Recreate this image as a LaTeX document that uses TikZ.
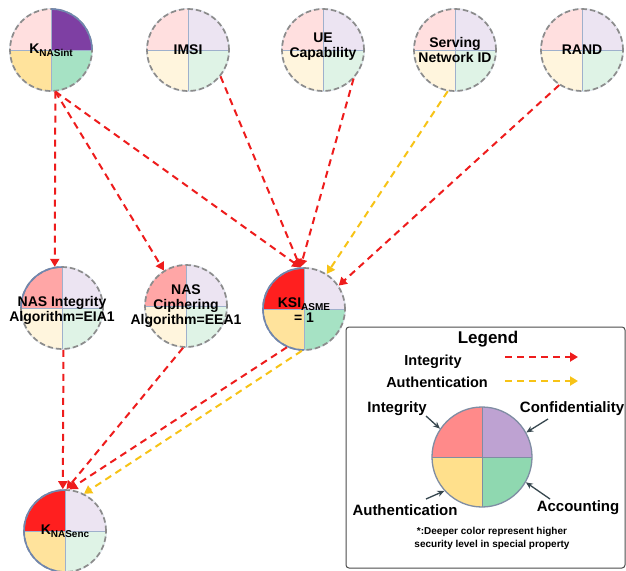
\documentclass[tikz,border=0pt]{standalone}
\usepackage{fontspec}
\setmainfont{Liberation Sans}
\usetikzlibrary{arrows.meta}
\definecolor{ppink}{HTML}{FFDFDF}
\definecolor{plav}{HTML}{ECE4F2}
\definecolor{pyel}{HTML}{FFF5DD}
\definecolor{pgrn}{HTML}{DFF3E6}
\definecolor{mpink}{HTML}{FFA6A6}
\definecolor{myel}{HTML}{FFE39C}
\definecolor{mgrn}{HTML}{A6E2C4}
\definecolor{dred}{HTML}{FF1F1F}
\definecolor{dpur}{HTML}{7E3FA3}
\definecolor{lgpink}{HTML}{FF8A8A}
\definecolor{lgpur}{HTML}{BEA2D2}
\definecolor{lgyel}{HTML}{FFE08C}
\definecolor{lggrn}{HTML}{8FD8B0}
\definecolor{bordergray}{HTML}{8C8C8C}
\definecolor{borderlight}{HTML}{DDE3EC}
\definecolor{crossblue}{HTML}{9FB0CC}
\definecolor{arcblue}{HTML}{6F86B0}
\definecolor{arrred}{HTML}{EE1C1C}
\definecolor{arryel}{HTML}{F7C316}
\definecolor{slate}{HTML}{37474F}
\tikzset{
  qnode/.style n args={4}{circle, minimum size=82pt, inner sep=0pt,
    draw=bordergray, line width=1.7pt, dash pattern=on 5.5pt off 3pt,
    preaction={draw=borderlight, solid, line width=1.7pt},
    path picture={
      \fill[#1] (path picture bounding box.center) rectangle (path picture bounding box.north west);
      \fill[#2] (path picture bounding box.center) rectangle (path picture bounding box.north east);
      \fill[#3] (path picture bounding box.center) rectangle (path picture bounding box.south west);
      \fill[#4] (path picture bounding box.center) rectangle (path picture bounding box.south east);
      \draw[crossblue, line width=0.8pt, solid] (path picture bounding box.north) -- (path picture bounding box.south);
      \draw[crossblue, line width=0.8pt, solid] (path picture bounding box.west) -- (path picture bounding box.east);
    }},
  ntext/.style={font=\bfseries\fontsize{14}{16}\selectfont, align=center, text=black, inner sep=0pt},
  deeparc/.style={draw=arcblue, line width=1.5pt, solid},
  redarr/.style={draw=arrred, line width=2pt, dash pattern=on 7pt off 5pt, -{Triangle[length=8pt,width=9pt]}, arrred},
  yelarr/.style={draw=arryel, line width=2pt, dash pattern=on 7pt off 5pt, -{Triangle[length=8pt,width=9pt]}, arryel},
  lblarr/.style={draw=slate, line width=1.3pt, -{Stealth[length=7pt,width=6pt]}},
  lgtext/.style={font=\bfseries\fontsize{15}{18}\selectfont, text=black},
}
\begin{document}
\begin{tikzpicture}[x=1pt, y=1pt]
\useasboundingbox (0,0) rectangle (626,-570);
\fill[white] (0,0) rectangle (626,-570);

% top row
\node[qnode={ppink}{dpur}{myel}{mgrn}] (kint) at (51,-50) {};
\node[qnode={ppink}{plav}{pyel}{pgrn}] (imsi) at (188,-50) {};
\node[qnode={ppink}{plav}{pyel}{pgrn}] (ue) at (323,-50) {};
\node[qnode={ppink}{plav}{pyel}{pgrn}] (snid) at (455,-50) {};
\node[qnode={ppink}{plav}{pyel}{pgrn}] (rand) at (582,-50) {};

% middle row
\node[qnode={mpink}{plav}{pyel}{pgrn}] (nasint) at (62,-308) {};
\node[qnode={mpink}{plav}{pyel}{pgrn}] (nascip) at (186,-306) {};
\node[qnode={dred}{plav}{myel}{mgrn}] (ksi) at (304,-309) {};

% bottom
\node[qnode={dred}{plav}{myel}{pgrn}] (kenc) at (65,-531) {};

% solid arcs on deep quadrants
\draw[deeparc] (kint.center) ++(0:41) arc[start angle=0, end angle=90, radius=41];
\draw[deeparc] (ksi.center) ++(90:41) arc[start angle=90, end angle=270, radius=41];
\draw[deeparc] (kenc.center) ++(90:41) arc[start angle=90, end angle=270, radius=41];
\draw[deeparc] (nasint.center) ++(90:41) arc[start angle=90, end angle=180, radius=41];

% texts
\node[ntext] (kint-t) at (kint.center) {K\raisebox{-3pt}{\fontsize{10}{12}\selectfont NASint}};
\node[ntext] (imsi-t) at (imsi.center) {IMSI};
\node[ntext] (ue-t) at ([yshift=3pt]ue.center) {UE\\[-1pt]Capability};
\node[ntext] (snid-t) at (snid.center) {Serving\\[-1pt]Network ID};
\node[ntext] (rand-t) at (rand.center) {RAND};
\node[ntext] (nasint-t) at ([yshift=-2pt]nasint.center) {NAS Integrity\\[-1pt]Algorithm=EIA1};
\node[ntext] (nascip-t) at (nascip.center) {NAS\\[-1pt]Ciphering\\[-1pt]Algorithm=EEA1};
\node[ntext] (ksi-t) at ([yshift=-1pt]ksi.center) {KSI\raisebox{-3pt}{\fontsize{10}{12}\selectfont ASME}\\[-1pt]= 1};
\node[ntext] (kenc-t) at (kenc.center) {K\raisebox{-3pt}{\fontsize{10}{12}\selectfont NASenc}};

% connectors
\draw[redarr] (kint.-84) -- (nasint.100);
\draw[redarr] (kint.-84) -- (nascip.122);
\draw[redarr] (kint.-84) -- (ksi.95);
\draw[redarr] (imsi.-39) -- (ksi.95);
\draw[redarr] (ue.-43) -- (ksi.95);
\draw[yelarr] (snid.-100) -- (ksi.57);
\draw[redarr] (rand.-123) -- (ksi.34);
\draw[redarr] (nasint.-88) -- (kenc.93);
\draw[redarr] (nascip.-94) -- (kenc.88);
\draw[redarr] (ksi.-114) -- (kenc.84);
\draw[yelarr] (ksi.-93) -- (kenc.63);

% legend
\draw[draw=black!70, line width=1pt, rounded corners=3pt] (346,-327) rectangle (625,-568);
\node[font=\bfseries\fontsize{17}{20}\selectfont] (legt) at (488,-339) {Legend};
\node[font=\bfseries\fontsize{14.5}{17}\selectfont] (li) at (433,-362) {Integrity};
\node[font=\bfseries\fontsize{14.5}{17}\selectfont] (la) at (437,-382) {Authentication};
\coordinate (lr1) at (505,-357);
\coordinate (lr2) at (578,-357);
\coordinate (ly1) at (505,-381);
\coordinate (ly2) at (578,-381);
\draw[redarr] (lr1) -- (lr2);
\draw[yelarr] (ly1) -- (ly2);

\node[circle, minimum size=100pt, inner sep=0pt, draw=crossblue!80!black, line width=1.3pt,
  path picture={
    \fill[lgpink] (path picture bounding box.center) rectangle (path picture bounding box.north west);
    \fill[lgpur] (path picture bounding box.center) rectangle (path picture bounding box.north east);
    \fill[lgyel] (path picture bounding box.center) rectangle (path picture bounding box.south west);
    \fill[lggrn] (path picture bounding box.center) rectangle (path picture bounding box.south east);
    \draw[crossblue!80!black, line width=1pt] (path picture bounding box.north) -- (path picture bounding box.south);
    \draw[crossblue!80!black, line width=1pt] (path picture bounding box.west) -- (path picture bounding box.east);
  }] (lc) at (482,-457) {};

\node[lgtext] (lint) at (397,-409) {Integrity};
\node[lgtext] (lconf) at (572,-409) {Confidentiality};
\node[lgtext] (lauth) at (405,-510) {Authentication};
\node[lgtext] (lacc) at (578,-508) {Accounting};
\coordinate (ai) at (426,-416);
\coordinate (ac) at (548,-419);
\coordinate (aa) at (426,-499);
\coordinate (aacc) at (550,-499);
\draw[lblarr] (ai) -- (lc.146);
\draw[lblarr] (ac) -- (lc.29);
\draw[lblarr] (aa) -- (lc.222);
\draw[lblarr] (aacc) -- (lc.-30);

\node[font=\bfseries\fontsize{10}{13}\selectfont, align=center] (note) at (492,-538.5) {*:Deeper color represent higher\\security level in special property};
\end{tikzpicture}
\end{document}
